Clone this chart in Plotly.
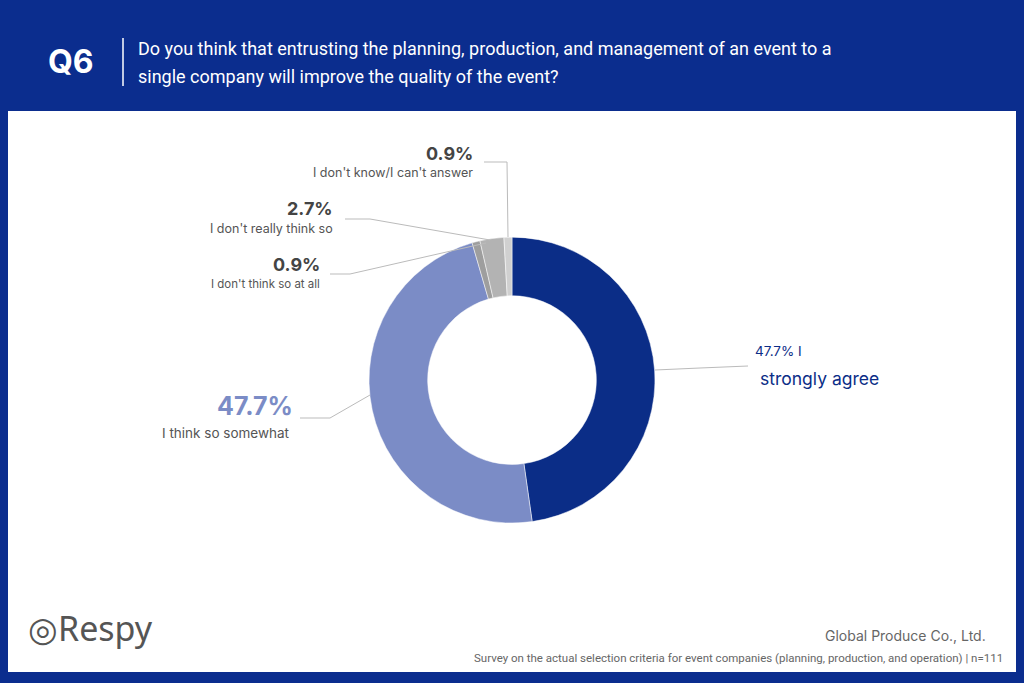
import plotly.graph_objects as go

labels = ["I strongly agree", "I think so somewhat", "I don't think so at all", "I don't really think so", "I don't know/I can't answer"]
values = [47.7, 47.7, 0.9, 2.7, 0.9]
colors = ["#0b2d87", "#7b8cc6", "#9e9e9e", "#b3b3b3", "#d0d0d0"]

fig = go.Figure(go.Pie(labels=labels, values=values, sort=False, direction="clockwise", rotation=0,
                       hole=0.59, marker=dict(colors=colors, line=dict(color="white", width=0.5)),
                       textinfo="none", hoverinfo="label+percent", showlegend=False,
                       domain=dict(x=[0.3604, 0.6396], y=[0.234, 0.653])))

W, H = 1024, 683
def px(x, y):
    return x / W, 1 - y / H

shapes = []
shapes.append(dict(type="rect", xref="paper", yref="paper", x0=8/W, x1=1016/W, y0=1-672/H, y1=1-111/H, fillcolor="white", line=dict(width=0), layer="below"))
x0, y0 = px(123, 38); x1, y1 = px(123, 86)
shapes.append(dict(type="line", xref="paper", yref="paper", x0=x0, y0=y0, x1=x1, y1=y1, line=dict(color="white", width=1.5)))

def poly(points):
    for (a, b), (c, d) in zip(points[:-1], points[1:]):
        xa, ya = px(a, b); xc, yc = px(c, d)
        shapes.append(dict(type="line", xref="paper", yref="paper", x0=xa, y0=ya, x1=xc, y1=yc, line=dict(color="#bbbbbb", width=1)))

poly([(655, 370), (700, 368), (748, 366)])
poly([(370, 395), (330, 418), (300, 418)])
poly([(486, 243), (350, 274), (330, 274)])
poly([(490, 240), (370, 219), (345, 219)])
poly([(508, 237), (507, 162), (484, 162)])
fig.update_layout(shapes=shapes)

ann = []
def t(x, y, text, size, color, anchor="left", bold=False, family="Inter"):
    xx, yy = px(x, y)
    ann.append(dict(x=xx, y=yy, xref="paper", yref="paper", text=f"<b>{text}</b>" if bold else text, showarrow=False,
                    xanchor=anchor, yanchor="middle", font=dict(size=size, color=color, family=family)))

t(46, 61, "Q6", 32, "white", bold=True)
t(136, 48, "Do you think that entrusting the planning, production, and management of an event to a", 18, "white", family="Roboto")
t(136, 76, "single company will improve the quality of the event?", 18, "white", family="Roboto")
t(475, 153, "0.9%", 18, "#444444", "right", True)
t(475, 172, "I don't know/I can't answer", 12.5, "#555555", "right")
t(335, 209, "2.7%", 18, "#444444", "right", True)
t(335, 228, "I don't really think so", 12.5, "#555555", "right")
t(322, 265, "0.9%", 18, "#444444", "right", True)
t(322, 284, "I don't think so at all", 11.5, "#555555", "right")
t(295, 406, "47.7%", 25, "#7b8cc6", "right", True)
t(292, 433, "I think so somewhat", 13.5, "#555555", "right")
t(753, 351, "47.7% I", 13.5, "#0b2d87")
t(758, 378, "strongly agree", 17.5, "#0b2d87")
t(26, 628, "◎Respy", 34, "#555555", family="Noto Sans")
t(988, 635, "Global Produce Co., Ltd.", 14, "#666666", "right")
t(1005, 658, "Survey on the actual selection criteria for event companies (planning, production, and operation) | n=111", 11.5, "#666666", "right", family="Roboto")
fig.update_layout(annotations=ann, width=W, height=H, margin=dict(l=0, r=0, t=0, b=0),
                  paper_bgcolor="#0b2d8e", plot_bgcolor="white")
fig.write_html("out.html", config={"displayModeBar": False},
               post_script="document.body.style.margin='0';document.body.style.overflow='hidden';")
